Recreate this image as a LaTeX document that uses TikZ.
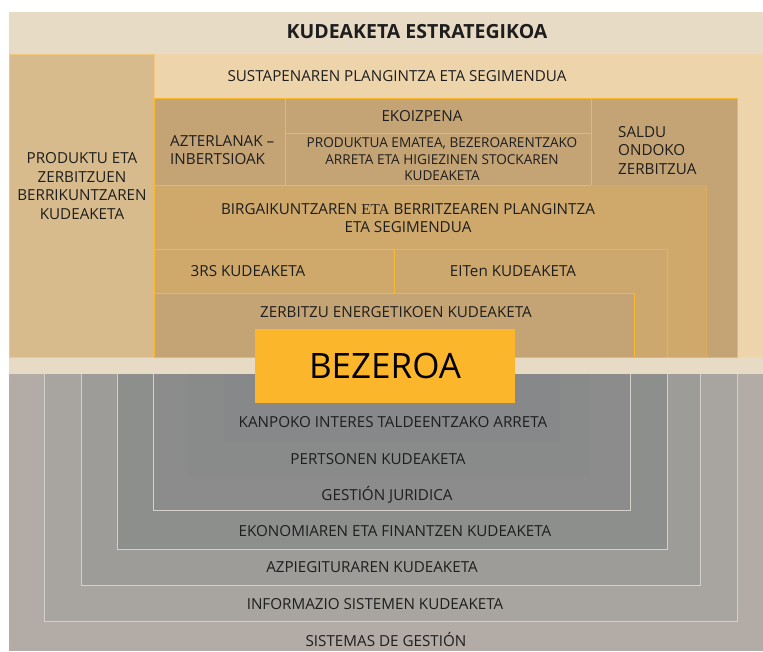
\documentclass[tikz,border=0pt]{standalone}
\usepackage{fontspec}
\setmainfont{Open Sans}
\newfontfamily\serifeta{Liberation Serif}
\definecolor{topband}{HTML}{E8DBC5}
\definecolor{lightor}{HTML}{EDD4AA}
\definecolor{leftcol}{HTML}{D7BB8C}
\definecolor{innerbox}{HTML}{C4A475}
\definecolor{birgai}{HTML}{CFA86B}
\definecolor{eiten}{HTML}{CCA76E}
\definecolor{gold}{HTML}{FBB62B}
\definecolor{goldline}{HTML}{F9B830}
\definecolor{softline}{HTML}{F3C77E}
\definecolor{eitline}{HTML}{E9B354}
\definecolor{gA}{HTML}{B3ACA6}
\definecolor{gB}{HTML}{A8A5A0}
\definecolor{gC}{HTML}{9E9C98}
\definecolor{gD}{HTML}{8D8F8D}
\definecolor{gE}{HTML}{8B8C8B}
\definecolor{gF}{HTML}{898A8A}
\definecolor{gG}{HTML}{87888A}
\definecolor{grayline}{HTML}{D4D0CC}
\definecolor{txt}{HTML}{1E1E1E}
\tikzset{
  lbl/.style={inner sep=0pt, text=txt, font=\fontsize{15.2}{18.4}\selectfont, align=center},
  small/.style={inner sep=0pt, text=txt, font=\fontsize{13.6}{16.6}\selectfont, align=center},
  obox/.style={draw=goldline, line width=1pt},
  gbox/.style={draw=grayline, line width=0.8pt},
}
\begin{document}
\begin{tikzpicture}[x=1pt,y=-1pt]
\useasboundingbox (0,0) rectangle (763,651);
\fill[white] (0,0) rectangle (763,651);
% upper area
\fill[topband] (9,12) rectangle (763,374);
\fill[lightor] (9,54) rectangle (763,357);
\fill[leftcol,draw=softline,line width=0.8pt] (9.5,54.5) rectangle (154.5,357);
% inner orange region
\fill[innerbox] (154,98) rectangle (737,357);
\draw[obox,fill=innerbox] (154,98) rectangle (285,185);
\draw[obox,fill=innerbox] (285,98) rectangle (591,133);
\draw[obox,fill=innerbox] (285,133) rectangle (591,185);
\fill[birgai] (154,185) rectangle (706,357);
\draw[eitline,line width=0.5pt,opacity=0.6] (706,185) -- (706,357);
\draw[goldline,line width=1pt] (154,357) -- (154,185) -- (591,185);
\fill[eiten,draw=eitline,line width=0.9pt] (394,249) rectangle (667,357);
\draw[obox,fill=birgai] (154,249) rectangle (394,293);
\draw[obox,fill=innerbox] (154,293) rectangle (634,357);
\draw[obox] (154,98) rectangle (737,357);
% lower gray area
\fill[gA] (9,374) rectangle (763,651);
\draw[gbox,fill=gB] (44,374) -- (44,621) -- (737,621) -- (737,374);
\draw[gbox,fill=gC] (81,374) -- (81,585) -- (700,585) -- (700,374);
\draw[gbox,fill=gD] (117,374) -- (117,549) -- (667,549) -- (667,374);
\draw[gbox,fill=gE] (153,374) -- (153,510) -- (630,510) -- (630,374);
\fill[gF] (188,374) rectangle (590,476);
\fill[gG] (224,374) rectangle (560,443);
% BEZEROA
\fill[gold] (255,329) rectangle (515,403);
\node[inner sep=0pt,text=black,font=\fontsize{35}{35}\selectfont] (bez) at (385,366) {BEZEROA};
% texts
\node[lbl,font=\fontsize{19.5}{22}\selectfont\bfseries] (title) at (417,32) {KUDEAKETA ESTRATEGIKOA};
\node[lbl] (sust) at (397,76) {SUSTAPENAREN PLANGINTZA ETA SEGIMENDUA};
\node[lbl] (prod) at (82,186) {PRODUKTU ETA\\ZERBITZUEN\\BERRIKUNTZAREN\\KUDEAKETA};
\node[lbl,align=left,anchor=west] (azter) at (170,150) {AZTERLANAK –\\INBERTSIOAK};
\node[lbl] (ekoiz) at (422,116) {EKOIZPENA};
\node[small] (prodemat) at (442,159.5) {PRODUKTUA EMATEA, BEZEROARENTZAKO\\ARRETA ETA HIGIEZINEN STOCKAREN\\KUDEAKETA};
\node[lbl,align=left,anchor=west] (saldu) at (618,150.5) {SALDU\\ONDOKO\\ZERBITZUA};
\node[lbl] (birg) at (408,218) {BIRGAIKUNTZAREN {\serifeta ETA} BERRITZEAREN PLANGINTZA\\ETA SEGIMENDUA};
\node[lbl] (rs) at (248,271) {3RS KUDEAKETA};
\node[lbl] (eit) at (513,271) {EITen KUDEAKETA};
\node[lbl] (zerb) at (396,312) {ZERBITZU ENERGETIKOEN KUDEAKETA};
\node[lbl] (kanp) at (393,422) {KANPOKO INTERES TALDEENTZAKO ARRETA};
\node[lbl] (pert) at (378,459) {PERTSONEN KUDEAKETA};
\node[lbl] (jur) at (387,495) {GESTIÓN JURIDICA};
\node[lbl] (eko) at (395,531) {EKONOMIAREN ETA FINANTZEN KUDEAKETA};
\node[lbl] (azp) at (372,567) {AZPIEGITURAREN KUDEAKETA};
\node[lbl] (inf) at (375,604) {INFORMAZIO SISTEMEN KUDEAKETA};
\node[lbl] (sis) at (386,639) {SISTEMAS DE GESTIÓN};
\end{tikzpicture}
\end{document}
